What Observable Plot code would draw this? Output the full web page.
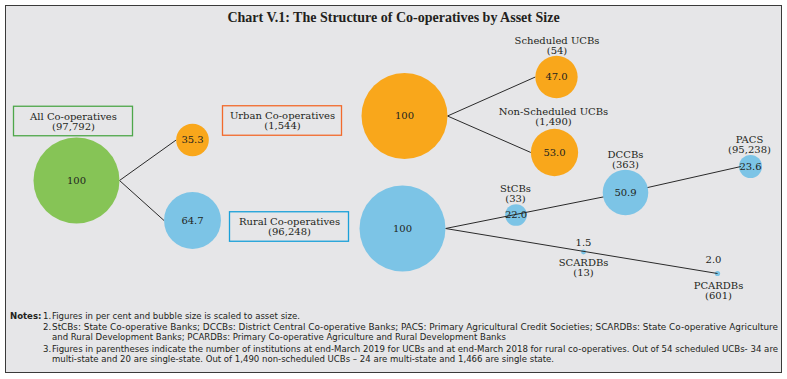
<!DOCTYPE html>
<html><head><meta charset="utf-8">
<script src="https://cdn.jsdelivr.net/npm/d3@7"></script>
<script src="https://cdn.jsdelivr.net/npm/@observablehq/plot@0.6"></script>
<style>
body{margin:0;background:#fff;}
#wrap{position:relative;width:787px;height:379px;overflow:hidden;}
#frame{position:absolute;left:5px;top:5px;width:775px;height:366px;border:1px solid #3a3a3a;background:#e6e6e8;}
#title{position:absolute;left:0;width:787px;top:10px;text-align:center;font:bold 14px "Liberation Serif",serif;color:#231f20;}
#chart{position:absolute;left:0;top:30px;}
.note{position:absolute;white-space:nowrap;font-family:"DejaVu Sans Condensed","DejaVu Sans",sans-serif;font-stretch:condensed;font-size:9.5px;color:#231f20;line-height:10px;transform-origin:0 0;}
.note b{font-weight:bold;}
</style></head>
<body>
<div id="wrap">
  <div id="frame"></div>
  <div id="title">Chart V.1: The Structure of Co-operatives by Asset Size</div>
  <div id="chart"></div>
  <div id="notes"></div>
</div>
<script>
// ---- data ----
const nodeIds = ["all","urbanShare","ruralShare","urban","rural","sched","nonsched","stcb","dccb","pacs","scardb","pcardb"];
const nodeNames = ["All Co-operatives","","","Urban Co-operatives","Rural Co-operatives","Scheduled UCBs","Non-Scheduled UCBs","StCBs","DCCBs","PACS","SCARDBs","PCARDBs"];
const institutionCounts = ["97,792","","","1,544","96,248","54","1,490","33","363","95,238","13","601"];
const assetShares = [100, 35.3, 64.7, 100, 100, 47.0, 53.0, 22.0, 50.9, 23.6, 1.5, 2.0];
const valueLabels = ["100","35.3","64.7","100","100","47.0","53.0","22.0","50.9","23.6","1.5","2.0"];
const sectors = ["all","urban","rural","urban","rural","urban","urban","rural","rural","rural","rural","rural"];
const linkSources = ["all","all","urban","urban","rural","dccb","rural"];
const linkTargets = ["urbanShare","ruralShare","sched","nonsched","dccb","pacs","pcardb"];
const noteLines = [
  "Figures in per cent and bubble size is scaled to asset size.",
  "StCBs: State Co-operative Banks; DCCBs: District Central Co-operative Banks; PACS: Primary Agricultural Credit Societies; SCARDBs: State Co-operative Agriculture",
  "and Rural Development Banks; PCARDBs:  Primary Co-operative Agriculture and Rural Development Banks",
  "Figures in parentheses indicate the number of institutions at end-March 2019 for UCBs and at end-March 2018 for rural co-operatives. Out of 54 scheduled UCBs- 34 are",
  "multi-state and 20 are single-state. Out of 1,490 non-scheduled UCBs \u2013 24 are multi-state and 1,466 are single state."
];

// ---- layout (diagram positions, in layout units) ----
const layoutX = [76,192,192,404,402,556,554,515.5,625,750,583,717];
const layoutY = [150,109.5,190,85.5,198,46.5,122,184.5,162,136,221.5,243];
const labelX  = [73,0,0,282,289,556.5,553,515,625,749,583,718];
const labelY  = [91,0,0,90.5,196.5,15.7,86.7,163,129,114,237,260];
const valueAbove = {scardb: 212, pcardb: 229};
const valueAboveX = {scardb: 583, pcardb: 713};
const smallNodes = new Set(["stcb","pacs","scardb","pcardb"]);
const groupNodes = new Set(["all","urban","rural"]);
const centerTargets = new Set(["dccb","pcardb"]);

const fills = {all:"#86c456", urban:"#f9a71b", rural:"#7cc4e6"};
const boxStroke = {all:"#4ea74a", urban:"#f26a2c", rural:"#1aa0d9"};

const rOpts = {type:"linear", domain:[0,100], range:[1.8,43]};
const rScale = Plot.scale({r: rOpts});

const nodes = nodeIds.map((id,i)=>({
  id, name:nodeNames[i], count:institutionCounts[i], share:assetShares[i],
  label:valueLabels[i], sector:sectors[i], x:layoutX[i], y:layoutY[i], lx:labelX[i], ly:labelY[i]
}));
const byId = Object.fromEntries(nodes.map(n=>[n.id,n]));

const links = linkSources.map((s,i)=>{
  const a = byId[s], b = byId[linkTargets[i]];
  const ra = rScale.apply(a.share), rb = rScale.apply(b.share);
  return {
    x1: groupNodes.has(s) ? a.x + ra : a.x, y1: a.y,
    x2: centerTargets.has(b.id) ? b.x : (smallNodes.has(b.id) ? b.x - rb + 2 : b.x - rb), y2: b.y
  };
});

const groups = nodes.filter(n=>groupNodes.has(n.id));
const boxW = 119, boxH = 29.5;
const big = nodes.filter(n=>!smallNodes.has(n.id));
const small = nodes.filter(n=>smallNodes.has(n.id));
const inside = nodes.filter(n=>!(n.id in valueAbove));
const outsideVals = nodes.filter(n=>n.id in valueAbove);
const named = nodes.filter(n=>n.name && !groupNodes.has(n.id));

const font = "DejaVu Serif";
const chart = Plot.plot({
  width:787, height:275, margin:0,
  x:{domain:[0,787], range:[0,787], axis:null},
  y:{domain:[0,275], range:[0,275], axis:null},
  r: rOpts,
  style:{background:"transparent", overflow:"visible"},
  marks:[
    Plot.rect(groups, {x1:d=>d.lx-boxW/2, x2:d=>d.lx+boxW/2, y1:d=>d.ly-boxH/2, y2:d=>d.ly+boxH/2,
      fill:"none", stroke:d=>boxStroke[d.sector], strokeWidth:1.3}),
    Plot.text(groups, {x:"lx", y:"ly", text:d=>d.name+"\n("+d.count+")", fontFamily:font, fontSize:10, lineHeight:1, fill:"#231f20"}),
    Plot.dot(small, {x:"x", y:"y", r:"share", fill:d=>fills[d.sector], stroke:"none"}),
    Plot.link(links, {x1:"x1", y1:"y1", x2:"x2", y2:"y2", stroke:"#2a2a2a", strokeWidth:1}),
    Plot.dot(big, {x:"x", y:"y", r:"share", fill:d=>fills[d.sector], stroke:"none"}),
    Plot.text(inside, {x:"x", y:"y", text:"label", fontFamily:font, fontSize:10, fill:"#231f20"}),
    Plot.text(outsideVals, {x:d=>valueAboveX[d.id], y:d=>valueAbove[d.id], text:"label", fontFamily:font, fontSize:10, fill:"#231f20"}),
    Plot.text(named, {x:"lx", y:"ly", text:d=>d.name+"\n("+d.count+")", fontFamily:font, fontSize:10, lineHeight:1, fill:"#231f20"})
  ]
});
document.getElementById("chart").appendChild(chart);

// notes
const notes = document.getElementById("notes");
const noteTops = [311, 322, 332, 344, 354];
const noteNums = ["1.","2.","","3.",""];
const fullWidth = [false, true, false, true, false];
const addDiv = (html, left, top) => { const d = document.createElement("div"); d.className="note"; d.style.left=left+"px"; d.style.top=top+"px"; d.innerHTML=html; notes.appendChild(d); return d; };
addDiv("<b>Notes:</b>", 10, noteTops[0]);
noteLines.forEach((t,i)=>{
  if (noteNums[i]) addDiv(noteNums[i], 43, noteTops[i]);
  const d = addDiv(t, 52, noteTops[i]);
  if (fullWidth[i]) {
    const w = d.getBoundingClientRect().width;
    const k = 726 / w;
    d.style.transform = "scaleX(" + k + ")";
  }
});
</script>
</body></html>
